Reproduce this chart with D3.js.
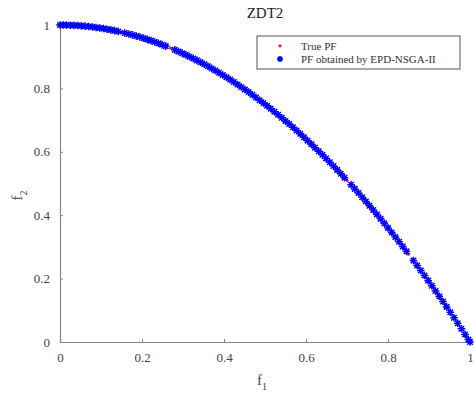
<!DOCTYPE html>
<html>
<head>
<meta charset="utf-8">
<script src="https://cdn.jsdelivr.net/npm/d3@7"></script>
<style>
  body { margin: 0; background: #fff; }
  svg { display: block; }
  svg text { font-family: "Liberation Serif", "DejaVu Serif", serif; }
</style>
</head>
<body>
<div id="chart"></div>
<script>
// true Pareto front (dense red dots)
const trueF1 = [0,0.01,0.02,0.03,0.04,0.05,0.06,0.07,0.08,0.09,0.10,0.11,0.12,0.13,0.14,0.15,0.16,0.17,0.18,0.19,
  0.20,0.21,0.22,0.23,0.24,0.25,0.26,0.27,0.28,0.29,0.30,0.31,0.32,0.33,0.34,0.35,0.36,0.37,0.38,0.39,
  0.40,0.41,0.42,0.43,0.44,0.45,0.46,0.47,0.48,0.49,0.50,0.51,0.52,0.53,0.54,0.55,0.56,0.57,0.58,0.59,
  0.60,0.61,0.62,0.63,0.64,0.65,0.66,0.67,0.68,0.69,0.70,0.71,0.72,0.73,0.74,0.75,0.76,0.77,0.78,0.79,
  0.80,0.81,0.82,0.83,0.84,0.85,0.86,0.87,0.88,0.89,0.90,0.91,0.92,0.93,0.94,0.95,0.96,0.97,0.98,0.99,1.00];
const trueF2 = [1,0.9999,0.9996,0.9991,0.9984,0.9975,0.9964,0.9951,0.9936,0.9919,0.99,0.9879,0.9856,0.9831,0.9804,0.9775,0.9744,0.9711,0.9676,0.9639,
  0.96,0.9559,0.9516,0.9471,0.9424,0.9375,0.9324,0.9271,0.9216,0.9159,0.91,0.9039,0.8976,0.8911,0.8844,0.8775,0.8704,0.8631,0.8556,0.8479,
  0.84,0.8319,0.8236,0.8151,0.8064,0.7975,0.7884,0.7791,0.7696,0.7599,0.75,0.7399,0.7296,0.7191,0.7084,0.6975,0.6864,0.6751,0.6636,0.6519,
  0.64,0.6279,0.6156,0.6031,0.5904,0.5775,0.5644,0.5511,0.5376,0.5239,0.51,0.4959,0.4816,0.4671,0.4524,0.4375,0.4224,0.4071,0.3916,0.3759,
  0.36,0.3439,0.3276,0.3111,0.2944,0.2775,0.2604,0.2431,0.2256,0.2079,0.19,0.1719,0.1536,0.1351,0.1164,0.0975,0.0784,0.0591,0.0396,0.0199,0];

// front obtained by EPD-NSGA-II (blue asterisks)
const epdF1 = [0,0.008,0.016,0.025,0.034,0.043,0.052,0.061,0.07,0.079,0.088,0.097,0.106,0.115,0.124,0.133,0.142,0.158,0.168,0.177,
  0.186,0.195,0.204,0.213,0.222,0.231,0.24,0.249,0.258,0.28,0.289,0.298,0.307,0.316,0.325,0.334,0.343,0.352,0.361,0.37,
  0.379,0.388,0.397,0.406,0.415,0.424,0.433,0.442,0.451,0.46,0.469,0.478,0.487,0.496,0.505,0.514,0.523,0.532,0.541,0.55,
  0.559,0.568,0.577,0.586,0.595,0.604,0.613,0.622,0.631,0.64,0.649,0.658,0.667,0.676,0.685,0.694,0.71,0.719,0.728,0.737,
  0.746,0.755,0.764,0.773,0.782,0.791,0.8,0.809,0.818,0.827,0.836,0.845,0.862,0.871,0.88,0.889,0.898,0.907,0.916,0.925,
  0.934,0.943,0.952,0.961,0.97,0.979,0.988,0.996,1];
const epdF2 = [1,0.9999,0.9997,0.9994,0.9988,0.9982,0.9973,0.9963,0.9951,0.9938,0.9923,0.9906,0.9888,0.9868,0.9846,0.9823,0.9798,0.975,0.9718,0.9687,
  0.9654,0.962,0.9584,0.9546,0.9507,0.9466,0.9424,0.938,0.9334,0.9216,0.9165,0.9112,0.9058,0.9001,0.8944,0.8884,0.8824,0.8761,0.8697,0.8631,
  0.8564,0.8495,0.8424,0.8352,0.8278,0.8202,0.8125,0.8046,0.7966,0.7884,0.78,0.7715,0.7628,0.754,0.745,0.7358,0.7265,0.717,0.7073,0.6975,
  0.6875,0.6774,0.6671,0.6566,0.646,0.6352,0.6242,0.6131,0.6018,0.5904,0.5788,0.567,0.5551,0.543,0.5308,0.5184,0.4959,0.483,0.47,0.4568,
  0.4435,0.43,0.4163,0.4025,0.3885,0.3743,0.36,0.3455,0.3309,0.3161,0.3011,0.286,0.257,0.2414,0.2256,0.2097,0.1936,0.1774,0.1609,0.1444,
  0.1276,0.1108,0.0937,0.0765,0.0591,0.0416,0.0239,0.008,0];

const tickVals = [0, 0.2, 0.4, 0.6, 0.8, 1];
const legendLabels = ["True PF", "PF obtained by EPD-NSGA-II"];

const width = 474, height = 398;
const margin = {top: 25, right: 4, bottom: 56, left: 60};
const w = width - margin.left - margin.right;
const h = height - margin.top - margin.bottom;
const axisColor = "#888";
const textColor = "#444";

const svg = d3.select("#chart").append("svg")
  .attr("width", width)
  .attr("height", height);

const g = svg.append("g")
  .attr("transform", "translate(" + margin.left + "," + margin.top + ")");

const x = d3.scaleLinear().domain([0, 1]).range([0, w]);
const y = d3.scaleLinear().domain([0, 1]).range([h, 0]);

// axes, MATLAB style inward ticks
const xAxis = g.append("g")
  .attr("transform", "translate(0," + h + ")")
  .call(d3.axisBottom(x).tickValues(tickVals).tickSize(-3).tickPadding(11).tickFormat(d3.format("~g")));
const yAxis = g.append("g")
  .call(d3.axisLeft(y).tickValues(tickVals).tickSize(-3).tickPadding(10).tickFormat(d3.format("~g")));

[xAxis, yAxis].forEach(a => {
  a.attr("font-family", null);
  a.select(".domain").attr("stroke", axisColor).attr("stroke-width", 1.2);
  a.selectAll(".tick line").attr("stroke", axisColor);
  a.selectAll(".tick text")
    .attr("fill", textColor)
    .style("font-size", "13px");
});

// true PF dots
g.append("g")
  .selectAll("circle")
  .data(trueF1)
  .enter()
  .append("circle")
  .attr("cx", (d) => x(d))
  .attr("cy", (d, i) => y(trueF2[i]))
  .attr("r", 1.6)
  .attr("fill", "#ff0000");

// asterisk marker path
const asterisk = (r) => {
  const d = r * 0.72;
  return "M" + (-r) + ",0L" + r + ",0M0," + (-r) + "L0," + r +
    "M" + (-d) + "," + (-d) + "L" + d + "," + d +
    "M" + (-d) + "," + d + "L" + d + "," + (-d);
};

g.append("g")
  .selectAll("path")
  .data(epdF1)
  .enter()
  .append("path")
  .attr("transform", (d, i) => "translate(" + x(d) + "," + y(epdF2[i]) + ")")
  .attr("d", asterisk(3.8))
  .attr("fill", "none")
  .attr("stroke", "#0000ff")
  .attr("stroke-width", 1.5);

// title
svg.append("text")
  .attr("x", margin.left + w / 2)
  .attr("y", 18)
  .attr("text-anchor", "middle")
  .style("font-size", "15px")
  .attr("fill", "#222")
  .text("ZDT2");

// axis labels
const xl = svg.append("text")
  .attr("x", margin.left + w / 2 - 3)
  .attr("y", 385)
  .attr("text-anchor", "middle")
  .style("font-size", "15px")
  .attr("fill", textColor);
xl.append("tspan").text("f");
xl.append("tspan").attr("dy", 5).style("font-size", "10px").text("1");

const yl = svg.append("text")
  .attr("transform", "translate(22," + (margin.top + h / 2 + 12) + ") rotate(-90)")
  .attr("text-anchor", "middle")
  .style("font-size", "15px")
  .attr("fill", textColor);
yl.append("tspan").text("f");
yl.append("tspan").attr("dy", 5).style("font-size", "10px").text("2");

// legend
const lg = svg.append("g").attr("transform", "translate(257,36)");
lg.append("rect")
  .attr("width", 203)
  .attr("height", 33)
  .attr("fill", "#fff")
  .attr("stroke", "#555")
  .attr("stroke-width", 1);

const rows = lg.selectAll("g.row")
  .data(legendLabels)
  .enter()
  .append("g")
  .attr("class", "row")
  .attr("transform", (d, i) => "translate(0," + (10 + i * 13) + ")");

rows.filter((d, i) => i === 0).append("circle")
  .attr("cx", 23).attr("cy", 0).attr("r", 1.4).attr("fill", "#ff0000");
rows.filter((d, i) => i === 1).append("path")
  .attr("transform", "translate(23,0)")
  .attr("d", asterisk(3))
  .attr("fill", "none")
  .attr("stroke", "#0000ff")
  .attr("stroke-width", 1.5);

rows.append("text")
  .attr("x", 44)
  .attr("y", 0)
  .attr("dy", "0.35em")
  .style("font-size", "11px")
  .attr("fill", "#333")
  .text((d) => d);
</script>
</body>
</html>
